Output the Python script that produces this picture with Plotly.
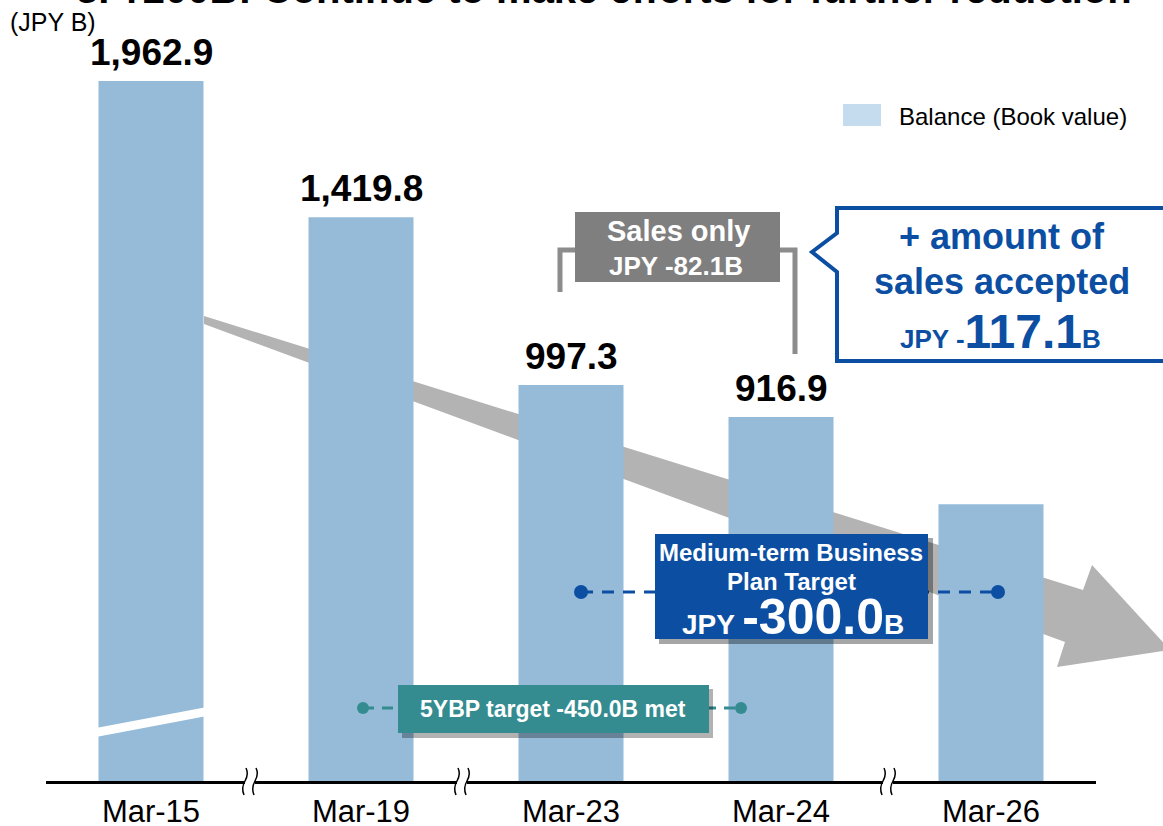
import plotly.graph_objects as go

# ---- data ----
categories = ["Mar-15", "Mar-19", "Mar-23", "Mar-24", "Mar-26"]
balance = [1962.9, 1419.8, 997.3, 916.9, 697.3]
value_labels = ["1,962.9", "1,419.8", "997.3", "916.9", ""]
series_name = "Balance (Book value)"
unit_label = "(JPY B)"
title_text = "3. ¥200B: Continue to make efforts for further reduction"

W, H = 1163, 826
ML, MR, MT, MB = 46, 67, 81, 45
PW, PH = W - ML - MR, H - MT - MB
YMAX = 1763

FONT = "Liberation Sans, Arial, sans-serif"
BAR = "#95bbd9"
BLUE = "#0c4fa2"
TEAL = "#358c90"


def X(px):
    return (px - ML) / PW


def Y(py):
    return (H - MB - py) / PH


def path(points):
    return "M " + " L ".join(f"{X(a):.5f},{Y(b):.5f}" for a, b in points) + " Z"


fig = go.Figure(go.Bar(x=categories, y=balance, marker=dict(color=BAR, line=dict(width=0)),
                       width=0.5, showlegend=False, name=series_name, hoverinfo="skip"))

shapes = []
ann = []

# big gray trend arrow (behind bars)
shapes.append(dict(type="path", xref="paper", yref="paper", layer="below",
                   path=path([(204, 316), (1083, 590), (1092, 565), (1170, 650),
                              (1057, 667), (1065, 642), (204, 324)]),
                   fillcolor="#b3b3b3", line=dict(width=0)))

# break band on the Mar-15 bar
shapes.append(dict(type="path", xref="paper", yref="paper", layer="above",
                   path=path([(96, 728), (207, 707), (207, 716), (96, 737)]),
                   fillcolor="white", line=dict(width=0)))

# axis breaks
for cx in [250, 462, 888]:
    shapes.append(dict(type="rect", xref="paper", yref="paper", layer="above",
                       x0=X(cx - 5), x1=X(cx + 5), y0=Y(776), y1=Y(786),
                       fillcolor="white", line=dict(width=0)))
    for off in (-5, 5):
        x = cx + off
        p = (f"M {X(x+1):.5f},{Y(768):.5f} Q {X(x+4):.5f},{Y(774):.5f} {X(x):.5f},{Y(781):.5f} "
             f"Q {X(x-4):.5f},{Y(788):.5f} {X(x-1):.5f},{Y(795):.5f}")
        shapes.append(dict(type="path", xref="paper", yref="paper", layer="above", path=p,
                           line=dict(color="black", width=1.5)))

# legend swatch
shapes.append(dict(type="rect", xref="paper", yref="paper", x0=X(843), x1=X(881),
                   y0=Y(126), y1=Y(104), fillcolor="#c5dbee", line=dict(width=0)))
ann.append(dict(xref="paper", yref="paper", x=X(897), y=Y(116), xanchor="left", yanchor="middle",
                text=series_name, showarrow=False, font=dict(size=24, color="black", family=FONT)))

# sales-only bracket + box
shapes.append(dict(type="path", xref="paper", yref="paper", layer="above",
                   path=f"M {X(560):.5f},{Y(292):.5f} L {X(560):.5f},{Y(250):.5f} L {X(580):.5f},{Y(250):.5f}",
                   line=dict(color="#8c8c8c", width=5)))
shapes.append(dict(type="path", xref="paper", yref="paper", layer="above",
                   path=f"M {X(775):.5f},{Y(250):.5f} L {X(795):.5f},{Y(250):.5f} L {X(795):.5f},{Y(354):.5f}",
                   line=dict(color="#8c8c8c", width=5)))
shapes.append(dict(type="rect", xref="paper", yref="paper", layer="above",
                   x0=X(575), x1=X(780), y0=Y(282), y1=Y(212),
                   fillcolor="#7f7f7f", line=dict(width=0)))
ann.append(dict(xref="paper", yref="paper", x=X(678), y=Y(231), xanchor="center", yanchor="middle",
                text="<b>Sales only</b>", showarrow=False, font=dict(size=29, color="white", family=FONT)))
ann.append(dict(xref="paper", yref="paper", x=X(676), y=Y(266), xanchor="center", yanchor="middle",
                text="<b>JPY -82.1B</b>", showarrow=False, font=dict(size=26, color="white", family=FONT)))

# callout box (blue outline)
shapes.append(dict(type="path", xref="paper", yref="paper", layer="above",
                   path=path([(837, 208), (1175, 208), (1175, 361), (837, 361), (837, 272),
                              (812, 252), (837, 233)]),
                   fillcolor="white", line=dict(color=BLUE, width=4)))
ann.append(dict(xref="paper", yref="paper", x=X(1002), y=Y(236), xanchor="center", yanchor="middle",
                text="<b>+ amount of</b>", showarrow=False, font=dict(size=36, color=BLUE, family=FONT)))
ann.append(dict(xref="paper", yref="paper", x=X(1002), y=Y(281), xanchor="center", yanchor="middle",
                text="<b>sales accepted</b>", showarrow=False, font=dict(size=36, color=BLUE, family=FONT)))
ann.append(dict(xref="paper", yref="paper", x=X(1000), y=Y(331), xanchor="center", yanchor="middle",
                text="<b><span style='font-size:26px'>JPY -</span>117.1<span style='font-size:26px'>B</span></b>",
                showarrow=False, font=dict(size=48, color=BLUE, family=FONT)))

# medium-term plan target: dashed line, dots, box
shapes.append(dict(type="line", xref="paper", yref="paper", x0=X(581), x1=X(998), y0=Y(592), y1=Y(592),
                   line=dict(color=BLUE, width=3, dash="12px,9px"), layer="above"))
for cx in (581, 998):
    shapes.append(dict(type="circle", xref="paper", yref="paper", x0=X(cx - 7), x1=X(cx + 7),
                       y0=Y(599), y1=Y(585), fillcolor=BLUE, line=dict(width=0), layer="above"))
shapes.append(dict(type="rect", xref="paper", yref="paper", x0=X(659), x1=X(933), y0=Y(644), y1=Y(538),
                   fillcolor="rgba(0,0,0,0.35)", line=dict(width=0), layer="above"))
shapes.append(dict(type="rect", xref="paper", yref="paper", x0=X(655), x1=X(928), y0=Y(639), y1=Y(534),
                   fillcolor=BLUE, line=dict(width=0), layer="above"))
ann.append(dict(xref="paper", yref="paper", x=X(791), y=Y(552), xanchor="center", yanchor="middle",
                text="<b>Medium-term Business</b>", showarrow=False, font=dict(size=24, color="white", family=FONT)))
ann.append(dict(xref="paper", yref="paper", x=X(791), y=Y(581), xanchor="center", yanchor="middle",
                text="<b>Plan Target</b>", showarrow=False, font=dict(size=24, color="white", family=FONT)))
ann.append(dict(xref="paper", yref="paper", x=X(793), y=Y(617), xanchor="center", yanchor="middle",
                text="<b><span style='font-size:28px'>JPY </span>-300.0<span style='font-size:28px'>B</span></b>",
                showarrow=False, font=dict(size=50, color="white", family=FONT)))

# 5YBP target line + box
shapes.append(dict(type="line", xref="paper", yref="paper", x0=X(363), x1=X(741), y0=Y(708), y1=Y(708),
                   line=dict(color=TEAL, width=3, dash="11px,8px"), layer="above"))
for cx in (363, 741):
    shapes.append(dict(type="circle", xref="paper", yref="paper", x0=X(cx - 6), x1=X(cx + 6),
                       y0=Y(714), y1=Y(702), fillcolor=TEAL, line=dict(width=0), layer="above"))
shapes.append(dict(type="rect", xref="paper", yref="paper", x0=X(402), x1=X(713), y0=Y(738), y1=Y(689),
                   fillcolor="rgba(0,0,0,0.3)", line=dict(width=0), layer="above"))
shapes.append(dict(type="rect", xref="paper", yref="paper", x0=X(398), x1=X(709), y0=Y(733), y1=Y(685),
                   fillcolor=TEAL, line=dict(width=0), layer="above"))
ann.append(dict(xref="paper", yref="paper", x=X(553), y=Y(709), xanchor="center", yanchor="middle",
                text="<b>5YBP target -450.0B met</b>", showarrow=False, font=dict(size=23, color="white", family=FONT)))

# value labels on bars
for c, v, lab in zip(categories, balance, value_labels):
    if lab:
        ann.append(dict(x=c, y=min(v, YMAX), xref="x", yref="y", text=f"<b>{lab}</b>", showarrow=False,
                        yanchor="bottom", yshift=6, font=dict(size=37, color="black", family=FONT)))

# unit label
ann.append(dict(xref="paper", yref="paper", x=X(8), y=Y(22), xanchor="left", yanchor="middle",
                text=unit_label, showarrow=False, font=dict(size=25, color="black", family=FONT)))

fig.update_layout(
    width=W, height=H, margin=dict(l=ML, r=MR, t=MT, b=MB, autoexpand=False),
    paper_bgcolor="white", plot_bgcolor="white",
    shapes=shapes, annotations=ann, bargap=0.5,
    font=dict(family=FONT), hovermode=False,
    title=dict(text=f"<b>{title_text}</b>", xref="container", yref="container",
               x=76 / W, xanchor="left", y=(H - 3) / H, yanchor="bottom",
               font=dict(size=40, color="black", family=FONT)),
    xaxis=dict(showline=True, linecolor="black", linewidth=3, ticks="", showgrid=False, automargin=False,
               tickfont=dict(size=31, color="black", family=FONT), ticklabelstandoff=1, zeroline=False),
    yaxis=dict(visible=False, range=[0, YMAX], showgrid=False, zeroline=False, automargin=False),
)

fig.write_html("out.html", config={"displayModeBar": False},
               post_script="document.body.style.margin='0';document.body.style.overflow='hidden';")
